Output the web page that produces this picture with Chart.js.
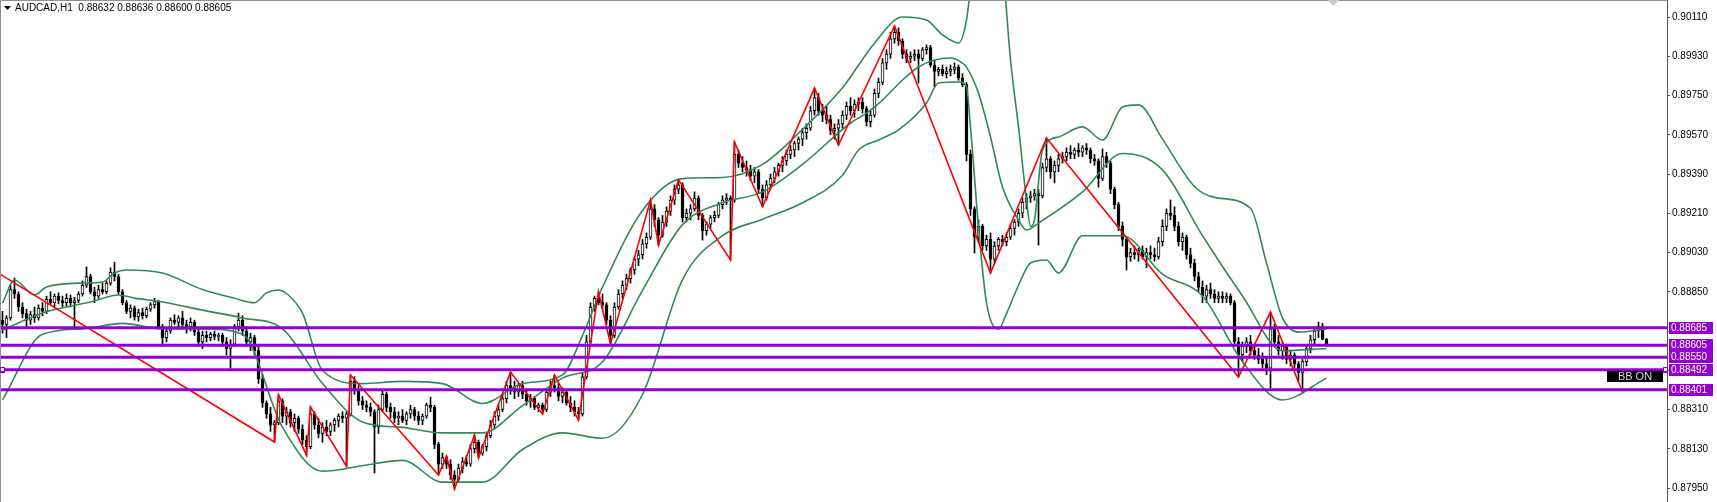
<!DOCTYPE html>
<html>
<head>
<meta charset="utf-8">
<title>AUDCAD,H1</title>
<script src="https://cdn.jsdelivr.net/npm/chart.js@4.4.1/dist/chart.umd.min.js"></script>
<style>
  html, body { margin: 0; padding: 0; background: #fff; }
  canvas { display: block; }
</style>
</head>
<body>
<canvas id="c" width="1717" height="502"></canvas>
<script>
// prices are in points (1e-5)
const PT = 0.00001;

const OPEN = [
  88720,88700,88730,88860,88840,88780,88750,88720,88745,88730,88775,88760,88815,88800,88830,88810,
  88800,88820,88800,88810,88840,88880,88920,88850,88830,88860,88850,88890,88940,88920,88850,
  88800,88760,88775,88735,88755,88740,88770,88790,88805,88690,88640,88670,88720,88710,88730,
  88700,88690,88710,88665,88620,88650,88640,88655,88645,88650,88620,88590,88610,88690,88720,88670,88620,88640,
  88580,88450,88340,88290,88240,88250,88350,88280,88300,88250,88270,88220,88170,88140,88290,88240,88200,88230,88210,88240,88260,88280,88270,88290,
  88440,88400,88350,88330,88320,88300,88230,88310,88380,88320,88300,88270,88280,88260,88290,88310,88280,88260,88280,88330,88320,88150,88060,
  88090,88060,88010,87990,88040,88070,88060,88130,88160,88110,88140,88190,88240,88280,88310,88360,88420,88410,88390,88420,
  88380,88350,88360,88320,88330,88310,88390,88420,88410,88370,88390,88340,88320,88300,88290,88460,88620,
  88780,88820,88800,88790,88720,88650,88780,88840,88880,88910,88950,89000,89020,89070,89100,89230,89180,89110,
  89170,89220,89270,89320,89340,89190,89210,89230,89280,89200,89130,89160,89190,89200,89250,89270,89280,89270,
  89480,89440,89420,89410,89380,89400,89320,89280,89340,89370,89400,89430,89450,89480,89500,89530,89550,89580,89600,89680,
  89740,89680,89660,89640,89590,89600,89620,89660,89700,89680,89710,89720,89690,89630,89660,89760,89810,89900,89940,
  90010,90040,90000,89940,89920,89930,89940,89920,89960,89970,89890,89860,89870,89850,89860,89870,89880,89830,89800,
  89480,89230,89100,89150,89060,89090,89000,89060,89090,89080,89100,89140,89170,89210,89260,89280,89290,89300,89290,89420,89460,89400,89430,89460,
  89470,89490,89480,89500,89490,89510,89500,89460,89450,89370,89470,89440,89320,89250,89150,89090,89010,89030,89020,89040,89010,89030,89020,89010,89080,
  89150,89210,89200,89150,89080,89100,89020,88980,88920,88870,88830,88860,88840,88820,88830,88820,88830,88800,88620,88560,
  88600,88620,88580,88560,88540,88520,88500,88680,88620,88580,88600,88540,88560,88520,88480,88530,88590,88630,88670,88690,88632
];
const HIGH = [
  88760,88740,88880,88913,88850,88800,88770,88760,88780,88790,88800,88830,88850,88840,88845,88830,
  88840,88835,88825,88850,88900,88964,88930,88870,88880,88890,88900,88960,88986,88930,88860,
  88810,88790,88785,88770,88775,88780,88800,88820,88810,88700,88680,88730,88745,88740,88760,
  88720,88730,88720,88680,88670,88670,88665,88670,88660,88660,88640,88630,88700,88752,88740,88690,88660,88650,
  88600,88470,88350,88320,88260,88377,88360,88320,88310,88290,88280,88240,88190,88322,88300,88270,88250,88260,88250,88270,88290,88300,88300,88468,
  88460,88420,88370,88350,88340,88310,88330,88400,88390,88340,88320,88300,88310,88300,88330,88320,88300,88290,88340,88367,88330,88160,88110,
  88097,88080,88030,88060,88090,88100,88150,88193,88170,88150,88200,88260,88300,88330,88380,88440,88482,88440,88430,88440,
  88400,88380,88370,88340,88340,88400,88440,88468,88430,88410,88400,88370,88350,88320,88480,88650,88800,
  88830,88849,88840,88800,88740,88800,88860,88900,88930,88960,89010,89040,89090,89120,89271,89250,89190,89200,
  89240,89290,89340,89363,89350,89230,89250,89308,89290,89210,89170,89200,89220,89260,89290,89300,89290,89537,
  89500,89470,89450,89430,89420,89410,89340,89360,89390,89420,89440,89470,89500,89520,89540,89560,89600,89620,89700,89784,
  89760,89710,89700,89660,89620,89640,89680,89720,89740,89730,89740,89740,89700,89680,89780,89830,89920,89960,90040,
  90069,90060,90010,89960,89950,89960,89960,89970,89982,89980,89910,89880,89890,89880,89890,89900,89890,89850,89810,
  89500,89240,89180,89160,89110,89120,89080,89100,89110,89120,89160,89180,89230,89280,89300,89310,89320,89320,89440,89555,89470,89450,89480,89490,
  89510,89520,89510,89530,89520,89530,89510,89480,89460,89505,89490,89450,89330,89260,89170,89100,89050,89060,89050,89060,89050,89060,89050,89100,89180,
  89230,89271,89240,89170,89120,89110,89050,89000,88940,88900,88880,88890,88860,88850,88850,88845,88840,88810,88640,88620,
  88640,88650,88610,88590,88570,88550,88757,88700,88650,88620,88610,88580,88570,88530,88540,88600,88650,88690,88711,88705,88636
];
const LOW = [
  88660,88640,88720,88820,88760,88730,88688,88700,88710,88720,88740,88750,88790,88780,88795,88780,
  88785,88780,88688,88800,88830,88870,88840,88800,88820,88840,88840,88880,88900,88840,88790,
  88750,88730,88720,88715,88725,88730,88760,88775,88680,88600,88620,88660,88700,88690,88680,
  88660,88670,88650,88600,88590,88620,88625,88630,88625,88600,88560,88500,88600,88670,88650,88600,88580,88560,
  88430,88320,88270,88210,88161,88240,88250,88240,88230,88210,88200,88150,88101,88130,88220,88180,88160,88190,88190,88210,88230,88250,88050,88280,
  88380,88330,88310,88300,88280,88019,88200,88300,88300,88270,88250,88240,88250,88240,88270,88260,88240,88240,88270,88300,88130,88010,88040,
  88040,87990,87946,87980,88020,88050,88050,88110,88088,88100,88120,88180,88220,88260,88300,88340,88380,88360,88370,88360,
  88330,88320,88310,88300,88289,88300,88370,88390,88350,88340,88330,88300,88280,88262,88280,88450,88600,
  88760,88790,88770,88700,88610,88640,88770,88820,88860,88890,88930,88970,89000,89050,89090,89150,89064,89100,
  89150,89200,89250,89300,89170,89170,89180,89220,89180,89087,89110,89140,89170,89190,89230,89250,88996,89260,
  89420,89400,89380,89360,89350,89300,89240,89270,89320,89350,89380,89400,89430,89460,89470,89500,89520,89550,89590,89660,
  89660,89630,89620,89570,89550,89523,89600,89640,89660,89650,89680,89670,89610,89606,89650,89740,89800,89870,89920,
  89990,89980,89920,89900,89900,89910,89807,89910,89940,89880,89789,89840,89840,89830,89840,89850,89820,89790,89450,
  89200,89028,89080,89040,89040,88936,88980,89040,89060,89060,89090,89110,89150,89190,89230,89260,89270,89064,89280,89400,89370,89349,89400,89440,
  89450,89460,89460,89470,89470,89480,89440,89430,89330,89360,89420,89300,89230,89130,89060,88950,88990,89000,88990,89000,88960,89000,88990,89000,89060,
  89130,89180,89130,89060,89040,89000,88960,88900,88850,88800,88800,88820,88800,88800,88800,88800,88790,88600,88459,88530,
  88570,88560,88540,88520,88500,88470,88409,88600,88560,88540,88520,88510,88500,88440,88390,88510,88570,88610,88640,88630,88600
];
const CLOSE = [
  88700,88730,88860,88840,88780,88750,88720,88745,88730,88775,88760,88815,88800,88830,88810,88800,
  88820,88800,88810,88840,88880,88920,88850,88830,88860,88850,88890,88940,88920,88850,88800,
  88760,88775,88735,88755,88740,88770,88790,88805,88690,88640,88670,88720,88710,88730,88700,
  88690,88710,88665,88620,88650,88640,88655,88645,88650,88620,88590,88610,88690,88720,88670,88620,88640,88580,
  88450,88340,88290,88240,88250,88350,88280,88300,88250,88270,88220,88170,88140,88290,88240,88200,88230,88210,88240,88260,88280,88270,88290,88440,
  88400,88350,88330,88320,88300,88230,88310,88380,88320,88300,88270,88280,88260,88290,88310,88280,88260,88280,88330,88320,88150,88060,88090,
  88060,88010,87990,88040,88070,88060,88130,88160,88110,88140,88190,88240,88280,88310,88360,88420,88410,88390,88420,88380,
  88350,88360,88320,88330,88310,88390,88420,88410,88370,88390,88340,88320,88300,88290,88460,88620,88780,
  88820,88800,88790,88720,88650,88780,88840,88880,88910,88950,89000,89020,89070,89100,89230,89180,89110,89170,
  89220,89270,89320,89340,89190,89210,89230,89280,89200,89130,89160,89190,89200,89250,89270,89280,89270,89480,
  89440,89420,89410,89380,89400,89320,89280,89340,89370,89400,89430,89450,89480,89500,89530,89550,89580,89600,89680,89740,
  89680,89660,89640,89590,89600,89620,89660,89700,89680,89710,89720,89690,89630,89660,89760,89810,89900,89940,90010,
  90040,90000,89940,89920,89930,89940,89920,89960,89970,89890,89860,89870,89850,89860,89870,89880,89830,89800,89480,
  89230,89100,89150,89060,89090,89000,89060,89090,89080,89100,89140,89170,89210,89260,89280,89290,89300,89290,89420,89460,89400,89430,89460,89470,
  89490,89480,89500,89490,89510,89500,89460,89450,89370,89470,89440,89320,89250,89150,89090,89010,89030,89020,89040,89010,89030,89020,89010,89080,89150,
  89210,89200,89150,89080,89100,89020,88980,88920,88870,88830,88860,88840,88820,88830,88820,88830,88800,88620,88560,88600,
  88620,88580,88560,88540,88520,88500,88680,88620,88580,88600,88540,88560,88520,88480,88530,88590,88630,88670,88690,88632,88605
];

// Bollinger bands, sampled by bar index
const UPPER_X = [0,3,8,11,20,25,28,31,40,50,58,63,66,69,72,75,80,90,100,110,120,130,140,145,150,160,170,180,190,200,210,218,225,231,235,239,241,243,247,250,252,254,256,257,258,260,264,270,275,280,284,290,298,303,312,316,320,324,331];
const UPPER_Y = [88798,88904,88835,88872,88890,88895,88936,88950,88936,88860,88820,88800,88845,88858,88826,88752,88489,88429,88439,88429,88338,88429,88469,88650,88871,89223,89369,89374,89434,89595,89786,89990,90110,90096,90028,89991,90096,90400,90600,90350,89913,89606,89271,89150,89180,89500,89560,89606,89546,89697,89707,89550,89333,89283,89233,88982,88730,88665,88680];
const MID_X = [0,4,10,16,22,29,33,40,50,60,70,80,90,100,110,120,130,140,150,160,170,180,190,200,212,216,220,225,229,233,237,240,241,244,247,250,254,256,259,270,280,290,300,310,320,331];
const MID_Y = [88675,88707,88753,88780,88803,88835,88821,88803,88766,88730,88680,88429,88253,88228,88203,88203,88328,88454,88529,88856,89158,89258,89308,89434,89624,89669,89729,89821,89881,89913,89922,89899,89880,89761,89560,89330,89179,89133,89165,89308,89484,89409,89107,88831,88580,88590];
const LOWER_X = [0,10,20,30,40,50,60,70,80,90,100,110,120,130,140,150,160,170,180,190,200,210,214,219,224,231,234,239,241,242,244,246,249,251,254,257,261,264,270,280,290,300,310,320,331];
const LOWER_Y = [88354,88655,88680,88705,88680,88680,88655,88228,88027,88052,88077,87977,87977,88127,88203,88178,88379,88906,89107,89183,89258,89384,89500,89546,89592,89716,89807,89812,89790,89606,89147,88800,88679,88750,88880,88982,88996,88936,89107,89107,88931,88831,88529,88354,88454];

// ZigZag turning points
const ZZ_X = [-0.625,68,69,76,77,86,87,109,111,113,118,119,127,135,138,144,149,152,162,164,169,182,183,190,203,209,223,247,261,309,317,325];
const ZZ_Y = [88931,88161,88377,88101,88322,88050,88468,88010,88097,87946,88193,88088,88482,88289,88468,88262,88849,88610,89271,89064,89363,88996,89537,89240,89784,89523,90069,88936,89555,88459,88757,88390];

// horizontal levels and price axis
const LEVELS = [0.88685, 0.88605, 0.88550, 0.88492, 0.88401];
const TICKS = [0.87950, 0.88130, 0.88310, 0.88490, 0.88670, 0.88850, 0.89030, 0.89210, 0.89390, 0.89570, 0.89750, 0.89930, 0.90110];
const Y_MIN = 0.87886, Y_MAX = 0.90188;
const X_MIN = -0.625, X_MAX = 416.125;

const HEADER = 'AUDCAD,H1  0.88632 0.88636 0.88600 0.88605';

const idx = CLOSE.map((_, i) => i);
const wicks = idx.map(i => ({ x: i, y: [LOW[i] * PT, HIGH[i] * PT] }));
const bodies = idx.map(i => ({ x: i, y: [OPEN[i] * PT, CLOSE[i] * PT] }));
const bodyFill = idx.map(i => CLOSE[i] >= OPEN[i] ? '#ffffff' : '#000000');
const pts = (xs, ys) => xs.map((x, j) => ({ x, y: ys[j] * PT }));

const BAND = '#2e8b57';
const PURPLE = '#9400d3';

const bandSet = (xs, ys) => ({
  type: 'line', data: pts(xs, ys), borderColor: BAND, borderWidth: 1.6,
  pointRadius: 0, cubicInterpolationMode: 'monotone', order: 2
});

const levelSets = LEVELS.map(v => ({
  type: 'line', data: [{ x: X_MIN, y: v }, { x: X_MAX, y: v }],
  borderColor: PURPLE, borderWidth: 3, pointRadius: 0, order: 0
}));

const overlay = {
  id: 'overlay',
  afterDraw(chart) {
    const ctx = chart.ctx, ys = chart.scales.y, area = chart.chartArea;
    ctx.save();
    // frame
    ctx.strokeStyle = '#909090';
    ctx.lineWidth = 1;
    ctx.beginPath();
    ctx.moveTo(0.5, 502); ctx.lineTo(0.5, 0.5); ctx.lineTo(area.right, 0.5);
    ctx.stroke();
    // shift marker
    ctx.fillStyle = '#c8c8c8';
    ctx.beginPath();
    ctx.moveTo(1328, 0); ctx.lineTo(1339, 0); ctx.lineTo(1333.5, 6); ctx.closePath();
    ctx.fill();
    // header
    ctx.fillStyle = '#000';
    ctx.beginPath();
    ctx.moveTo(4, 6); ctx.lineTo(11, 6); ctx.lineTo(7.5, 10); ctx.closePath();
    ctx.fill();
    ctx.font = '10px "Liberation Sans", Arial, sans-serif';
    ctx.textBaseline = 'middle';
    ctx.textAlign = 'left';
    ctx.fillText(HEADER, 15, 8.5);
    // level labels
    LEVELS.forEach(v => {
      const y = Math.round(ys.getPixelForValue(v));
      ctx.fillStyle = PURPLE;
      ctx.fillRect(area.right + 2, y - 6, 44, 12);
      ctx.fillStyle = '#ffffff';
      ctx.fillText(v.toFixed(5), area.right + 4, y + 0.5);
    });
    // selection squares on 0.88492
    const ys4 = Math.round(ys.getPixelForValue(LEVELS[3]));
    ctx.fillStyle = PURPLE;
    ctx.fillRect(0, ys4 - 3, 5, 6);
    ctx.fillRect(area.right - 4, ys4 - 3, 5, 6);
    ctx.fillStyle = '#fff';
    ctx.fillRect(1, ys4 - 2, 3, 3);
    ctx.fillRect(area.right - 3, ys4 - 2, 3, 3);
    // BB ON label
    ctx.fillStyle = '#000';
    ctx.fillRect(1607, 371, 56, 11);
    ctx.fillStyle = '#d8d8d8';
    ctx.font = '11px "Liberation Sans", Arial, sans-serif';
    ctx.textAlign = 'center';
    ctx.fillText('BB ON', 1635, 377);
    ctx.restore();
  }
};

new Chart(document.getElementById('c'), {
  type: 'line',
  data: {
    datasets: [
      ...levelSets,
      { type: 'line', data: pts(ZZ_X, ZZ_Y), borderColor: '#ff0000', borderWidth: 1.6, pointRadius: 0, tension: 0, order: 1 },
      bandSet(UPPER_X, UPPER_Y),
      bandSet(MID_X, MID_Y),
      bandSet(LOWER_X, LOWER_Y),
      { type: 'bar', data: bodies, backgroundColor: bodyFill, borderColor: '#000', borderWidth: 1,
        borderSkipped: false, barThickness: 3, grouped: false, minBarLength: 1, order: 3 },
      { type: 'bar', data: wicks, backgroundColor: '#000', borderWidth: 0,
        barThickness: 1, grouped: false, order: 4 }
    ]
  },
  options: {
    responsive: false,
    animation: false,
    devicePixelRatio: 1,
    layout: { padding: 0 },
    plugins: { legend: { display: false }, tooltip: { enabled: false } },
    scales: {
      x: { type: 'linear', min: X_MIN, max: X_MAX, offset: false, display: false },
      y: {
        type: 'linear', position: 'right', min: Y_MIN, max: Y_MAX,
        afterBuildTicks: s => { s.ticks = TICKS.map(v => ({ value: v })); },
        afterFit: s => { s.width = 50; s.paddingTop = 0; s.paddingBottom = 0; },
        border: { display: true, color: '#555', width: 1 },
        grid: { display: true, drawOnChartArea: false, drawTicks: true, tickLength: 3, color: '#555' },
        ticks: {
          color: '#000', padding: 2,
          font: { family: 'Liberation Sans', size: 10 },
          callback: v => Number(v).toFixed(5)
        }
      }
    }
  },
  plugins: [overlay]
});
</script>
</body>
</html>
